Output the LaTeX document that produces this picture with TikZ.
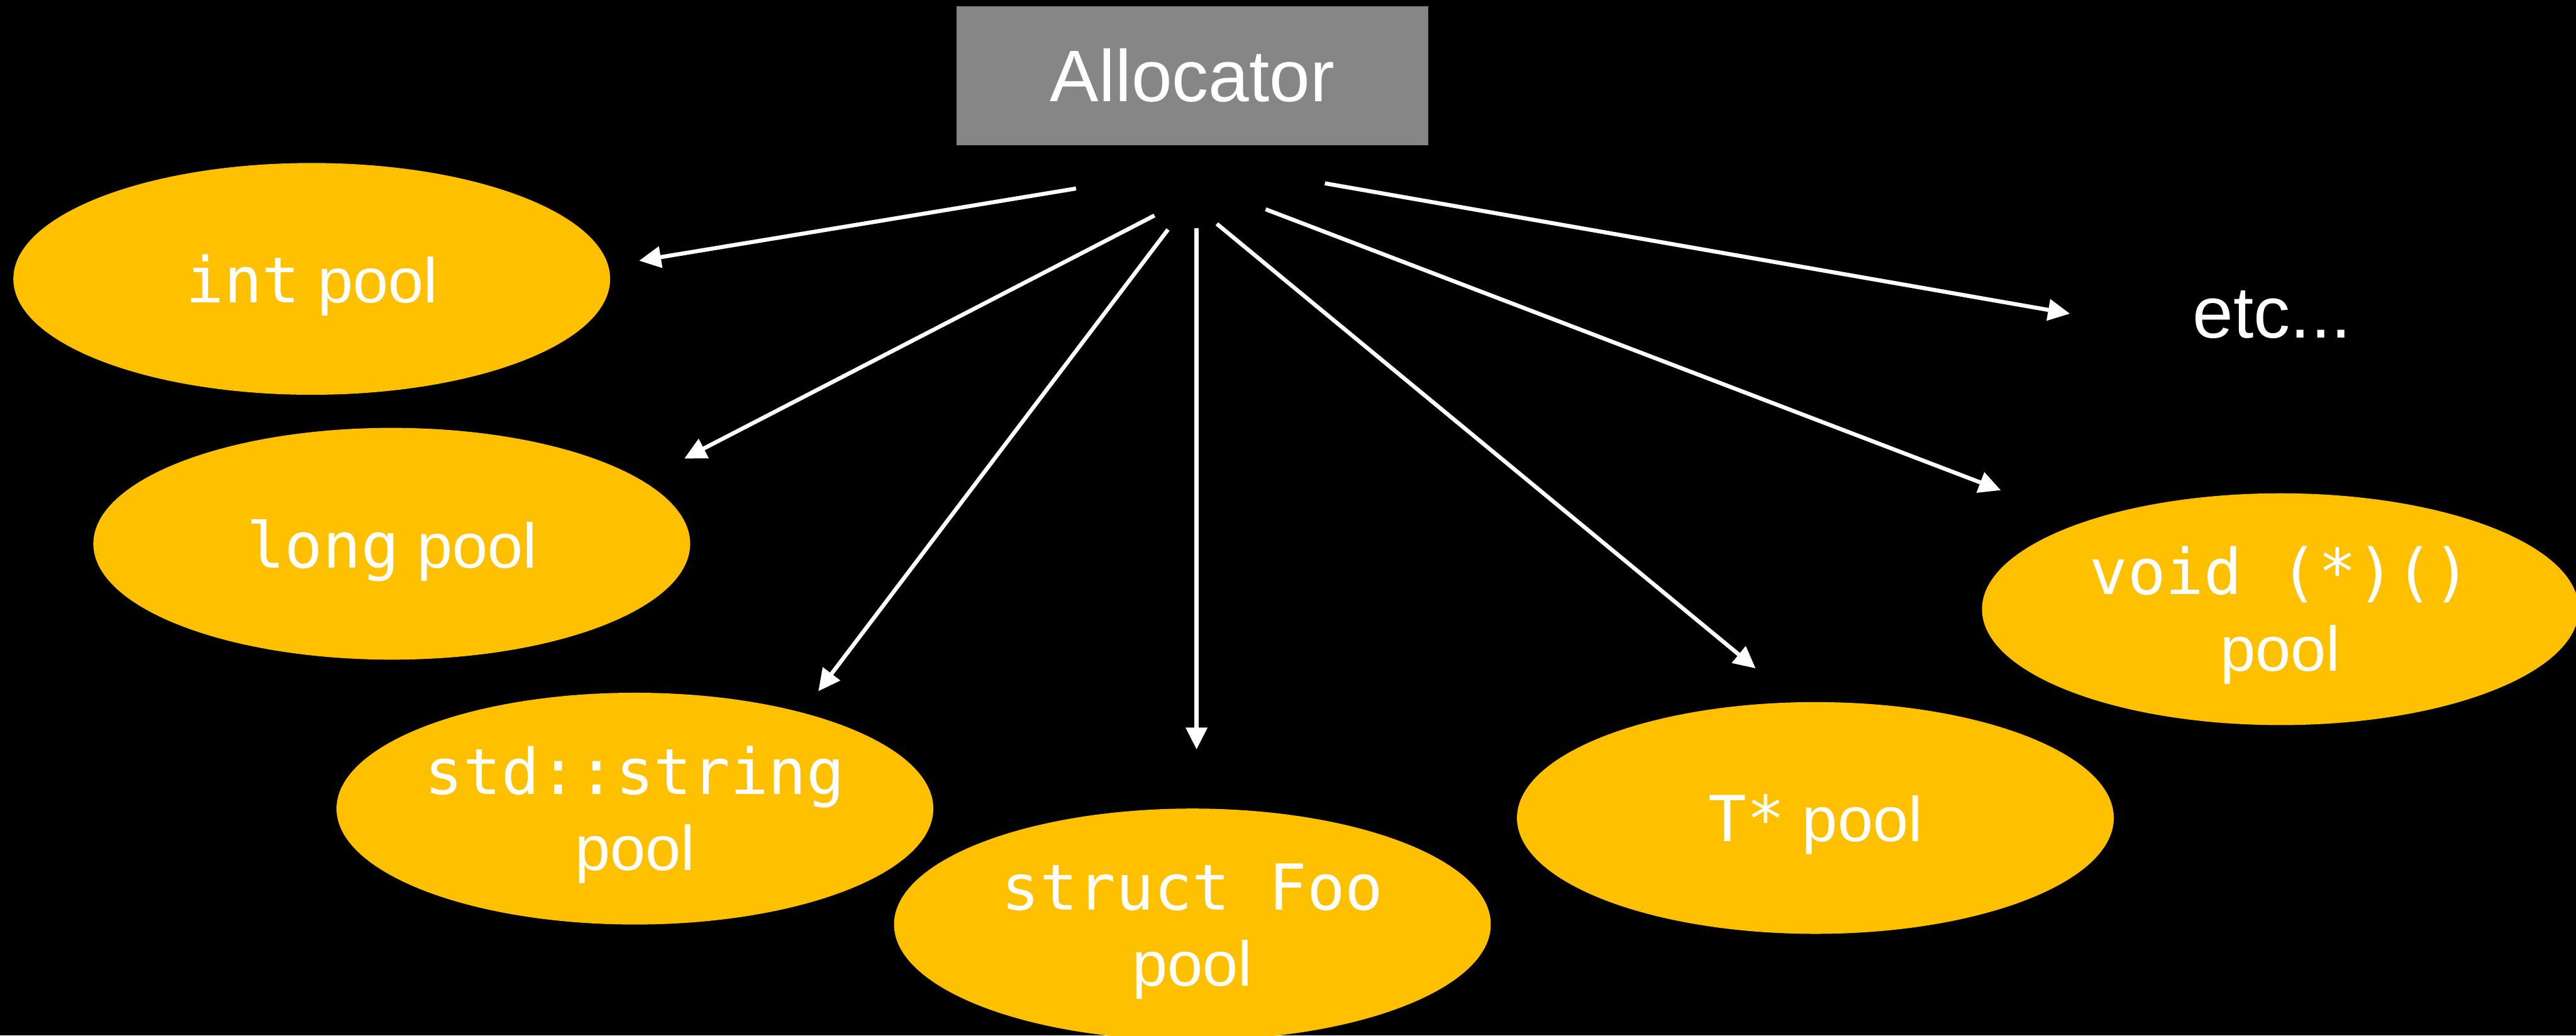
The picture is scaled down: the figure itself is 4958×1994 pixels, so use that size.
\documentclass[tikz,border=0pt]{standalone}
\usepackage{fontspec}
\setmainfont{Liberation Sans}
\setmonofont{DejaVu Sans Mono}
\usetikzlibrary{shapes.geometric,arrows.meta}
\definecolor{poolgold}{RGB}{255,192,0}
\definecolor{allocgray}{RGB}{134,134,134}
\newcommand{\toplift}{\rule{0pt}{33pt}}
\begin{document}
\begin{tikzpicture}[x=0.01cm,y=-0.01cm,
  pool/.style={ellipse, fill=poolgold, minimum width=11.48cm, minimum height=4.46cm,
    inner sep=0pt, outer sep=0pt, text=white, align=center,
    font=\fontsize{34.7}{41.8}\selectfont},
  oneline/.style={text depth=0pt},
  arr/.style={draw=white, line width=2.2pt, -{Triangle[length=12pt,width=11.5pt]}}]
\useasboundingbox (0,0) rectangle (4958,1994);
\fill[black] (0,0) rectangle (4958,1994);

\node[fill=allocgray, minimum width=9.08cm, minimum height=2.67cm, inner sep=0pt,
  text=white, font=\fontsize{40}{48}\selectfont] (alloc) at (2295,145.5) {Allocator};

\node[pool, oneline] (intp) at (600,537) {{\ttfamily int} pool};
\node[pool, oneline] (longp) at (754,1047) {{\ttfamily long} pool};
\node[pool] (strp) at (1222,1557) {\toplift{\ttfamily std::string}\\pool};
\node[pool] (foop) at (2295,1780) {\toplift{\ttfamily struct Foo}\\pool};
\node[pool, oneline] (tp) at (3494,1575) {{\ttfamily T*} pool};
\node[pool] (voidp) at (4389,1173) {\toplift{\ttfamily void (*)()}\\pool};
\node[text=white, inner sep=0pt, font=\fontsize{40}{48}\selectfont] (etc) at (4373,606) {etc...};

\coordinate (sInt) at (2071,363);   \coordinate (eInt) at (1230,502);
\coordinate (sLong) at (2222,415);  \coordinate (eLong) at (1317,883);
\coordinate (sStr) at (2248,442);   \coordinate (eStr) at (1575,1331);
\coordinate (sFoo) at (2303,439);   \coordinate (eFoo) at (2303,1443);
\coordinate (sT) at (2342,431);     \coordinate (eT) at (3379,1287);
\coordinate (sVoid) at (2436,403);  \coordinate (eVoid) at (3851,944);
\coordinate (sEtc) at (2550,353);   \coordinate (eEtc) at (3984,604);

\draw[arr] (sInt) -- (eInt);
\draw[arr] (sLong) -- (eLong);
\draw[arr] (sStr) -- (eStr);
\draw[arr] (sFoo) -- (eFoo);
\draw[arr] (sT) -- (eT);
\draw[arr] (sVoid) -- (eVoid);
\draw[arr] (sEtc) -- (eEtc);
\end{tikzpicture}
\end{document}
